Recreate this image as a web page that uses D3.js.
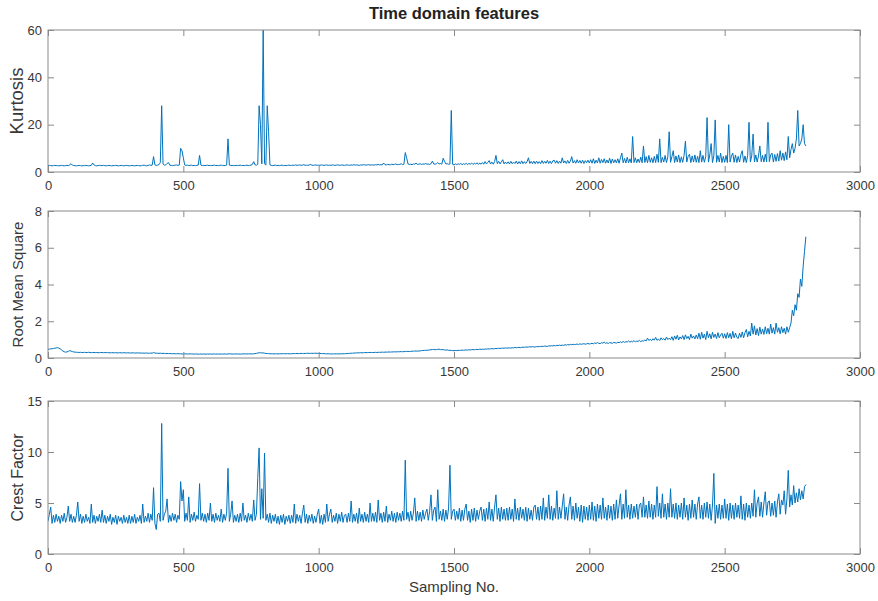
<!DOCTYPE html>
<html>
<head>
<meta charset="utf-8">
<script src="https://cdn.jsdelivr.net/npm/d3@7"></script>
<style>
  html, body { margin: 0; padding: 0; background: #fff; }
  svg text { font-family: "Liberation Sans", Arial, Helvetica, sans-serif; }
</style>
</head>
<body>
<svg id="chart" width="878" height="601"></svg>
<script>
// One value every STEP samples, starting at sample 0
const STEP = 5;

const xTicks = [0, 500, 1000, 1500, 2000, 2500, 3000];

// Kurtosis per sample window
const kurtosis = [
  2.7,2.8,2.7,2.6,2.7,2.8,2.7,2.7,2.6,2.7,2.8,2.7,2.6,2.7,2.8,2.7,3.0,3.5,2.9,2.7,
  2.7,2.6,2.7,2.8,2.7,2.6,2.7,2.7,2.8,2.7,2.6,2.7,2.8,3.8,3.0,2.7,2.6,2.7,2.8,2.7,
  2.7,2.8,2.7,2.6,2.7,2.8,2.7,2.6,2.7,2.7,2.8,2.7,2.6,2.7,2.8,2.7,2.6,2.7,2.8,2.7,
  2.6,2.7,2.8,2.7,2.6,2.7,2.8,2.7,2.6,2.7,2.8,2.9,2.7,2.6,2.8,3.0,2.8,2.9,6.5,3.0,
  2.8,2.9,3.1,4.0,28,3.4,2.9,3.0,3.6,4.0,2.9,2.8,2.7,2.8,2.9,3.0,2.8,2.9,10,9.0,
  6.0,3.0,2.8,2.9,2.7,2.8,2.9,2.7,2.8,2.7,2.8,2.9,7.0,2.9,2.7,2.8,2.7,2.8,2.9,2.7,
  2.8,2.7,2.8,2.9,2.7,2.8,2.7,2.8,2.9,2.7,2.8,2.7,2.9,14,2.9,2.8,2.7,2.8,2.7,2.8,
  2.7,2.8,2.9,2.7,2.8,2.7,2.8,2.9,2.7,2.8,2.9,3.2,4.4,3.0,2.9,3.3,28,20,3.4,60,
  3.5,2.9,28,17,3.0,2.8,2.7,2.8,2.9,2.7,2.8,2.7,2.8,2.9,2.7,2.8,2.7,2.8,2.9,2.8,
  2.8,2.9,2.8,3.0,2.8,2.9,3.0,2.8,2.9,3.1,2.8,2.9,2.8,3.0,3.2,2.9,2.8,2.9,3.0,2.8,
  2.9,2.8,3.0,2.9,2.8,2.9,3.0,2.8,2.9,2.8,3.0,2.9,2.8,2.9,3.0,2.9,2.8,3.0,2.9,2.8,
  2.9,3.0,2.9,2.8,3.0,2.9,3.1,2.9,3.0,2.9,2.8,3.0,2.9,3.1,3.0,2.9,3.0,3.1,2.9,3.0,
  3.0,2.9,3.1,3.0,3.2,3.0,3.1,3.0,3.8,3.1,3.0,3.2,3.1,3.0,3.3,3.1,3.2,3.4,3.1,3.2,
  3.2,3.5,3.1,3.3,8.2,6.0,3.4,3.2,3.3,3.1,3.4,3.3,3.8,3.2,3.3,3.5,3.2,3.4,3.3,3.6,
  3.3,3.4,3.2,3.5,4.6,3.4,3.3,3.5,4.0,3.4,3.6,3.3,5.8,4.5,3.4,3.5,3.3,3.4,26,3.2,
  3.0,3.4,3.1,3.5,3.2,3.6,3.1,3.5,3.2,3.7,3.1,3.6,3.3,3.8,3.2,3.7,3.3,3.9,3.2,3.8,
  3.3,4.0,3.3,4.4,3.4,4.1,4.8,3.4,4.2,3.3,4.4,7.0,3.5,4.5,3.4,4.3,5.2,3.4,4.2,3.5,
  4.3,3.4,4.5,3.5,4.2,3.6,4.6,3.4,4.4,3.5,4.7,3.5,4.4,3.6,4.3,6.0,3.6,4.5,3.5,4.6,
  3.5,4.6,3.6,4.4,3.5,4.8,3.6,4.5,3.7,4.9,3.6,4.6,3.5,4.7,5.0,3.7,4.8,3.6,4.6,3.7,
  6.0,3.8,4.7,3.6,4.9,3.7,4.6,6.5,3.8,4.8,3.7,5.2,3.8,4.9,3.7,5.0,3.6,4.8,3.9,5.0,
  3.8,5.2,3.7,5.6,3.6,5.0,3.8,6.0,3.7,5.3,3.9,5.6,3.7,5.1,3.8,5.8,3.6,5.5,3.9,5.2,
  3.8,5.6,3.7,6.0,8.0,3.9,5.7,3.8,6.2,3.9,5.6,3.8,15,4.0,6.0,3.9,5.5,4.0,6.3,3.9,
  11,4.0,6.5,3.9,7.0,4.1,6.0,3.9,6.6,4.0,7.5,4.1,14,4.0,6.2,4.2,7.0,4.0,6.4,17,
  4.1,6.5,9.0,4.0,6.8,4.2,7.2,4.0,6.4,4.1,7.0,13,4.2,6.6,7.5,4.0,6.8,4.2,7.2,4.1,
  6.6,4.0,9.0,4.2,7.0,4.1,6.5,23,4.2,7.2,12,4.0,6.8,22,4.1,7.0,4.2,8.0,4.0,6.6,
  4.1,7.0,4.0,20,4.2,6.8,8.0,4.1,7.2,4.0,6.6,4.2,7.4,9.0,4.1,6.8,4.0,7.0,21,4.2,
  6.8,16,4.3,7.2,4.2,6.8,11,4.4,7.0,4.2,7.5,4.3,21,4.4,7.2,8.0,4.2,7.4,4.5,7.8,
  4.6,9.0,5.0,8.0,4.8,8.5,5.2,15,6.0,9.5,12,8.0,10,14,26,11,12,14,20,12,
  11
];

// Root mean square per sample window
const rms = [
  0.47,0.48,0.5,0.5,0.52,0.53,0.55,0.56,0.54,0.5,0.44,0.38,0.34,0.32,0.33,0.36,0.4,0.38,0.35,0.33,
  0.32,0.31,0.31,0.3,0.31,0.3,0.3,0.31,0.3,0.3,0.31,0.3,0.29,0.3,0.3,0.29,0.3,0.29,0.29,0.3,
  0.3,0.29,0.29,0.3,0.29,0.29,0.28,0.29,0.29,0.28,0.29,0.28,0.28,0.29,0.28,0.28,0.29,0.28,0.28,0.28,
  0.28,0.27,0.28,0.28,0.27,0.27,0.28,0.27,0.27,0.27,0.27,0.26,0.27,0.27,0.26,0.26,0.27,0.26,0.3,0.27,
  0.26,0.26,0.25,0.26,0.25,0.25,0.25,0.24,0.25,0.24,0.24,0.24,0.23,0.24,0.23,0.23,0.24,0.23,0.23,0.22,
  0.22,0.23,0.22,0.22,0.22,0.23,0.22,0.22,0.21,0.22,0.22,0.21,0.21,0.22,0.21,0.22,0.21,0.21,0.22,0.21,
  0.22,0.21,0.22,0.22,0.21,0.22,0.22,0.21,0.22,0.21,0.22,0.22,0.21,0.22,0.23,0.22,0.22,0.21,0.22,0.22,
  0.22,0.22,0.21,0.22,0.22,0.23,0.22,0.22,0.23,0.22,0.23,0.22,0.23,0.24,0.25,0.27,0.28,0.29,0.27,0.28,
  0.26,0.25,0.24,0.24,0.23,0.23,0.23,0.22,0.23,0.23,0.22,0.23,0.23,0.23,0.24,0.23,0.23,0.24,0.23,0.23,
  0.23,0.24,0.24,0.24,0.25,0.24,0.24,0.25,0.25,0.24,0.25,0.25,0.26,0.25,0.25,0.26,0.25,0.26,0.26,0.25,
  0.25,0.25,0.24,0.24,0.24,0.23,0.23,0.23,0.23,0.22,0.22,0.23,0.22,0.23,0.22,0.23,0.22,0.23,0.23,0.23,
  0.24,0.24,0.25,0.25,0.26,0.26,0.27,0.27,0.28,0.28,0.28,0.29,0.28,0.29,0.29,0.3,0.29,0.3,0.3,0.3,
  0.3,0.3,0.31,0.3,0.31,0.31,0.31,0.32,0.31,0.32,0.32,0.32,0.33,0.32,0.33,0.33,0.34,0.33,0.34,0.34,
  0.34,0.35,0.34,0.35,0.35,0.36,0.36,0.35,0.36,0.37,0.37,0.38,0.38,0.37,0.38,0.39,0.4,0.41,0.41,0.42,
  0.42,0.43,0.44,0.45,0.46,0.47,0.45,0.46,0.47,0.48,0.46,0.45,0.46,0.44,0.43,0.44,0.42,0.42,0.41,0.4,
  0.4,0.41,0.4,0.42,0.41,0.42,0.43,0.42,0.43,0.44,0.43,0.45,0.44,0.45,0.46,0.45,0.46,0.47,0.46,0.48,
  0.47,0.48,0.47,0.49,0.48,0.5,0.49,0.5,0.51,0.5,0.51,0.52,0.51,0.53,0.52,0.53,0.54,0.53,0.55,0.54,
  0.54,0.55,0.54,0.56,0.55,0.57,0.56,0.57,0.58,0.56,0.58,0.59,0.58,0.6,0.59,0.6,0.61,0.6,0.62,0.6,
  0.6,0.62,0.61,0.63,0.62,0.64,0.63,0.65,0.64,0.63,0.66,0.65,0.67,0.66,0.68,0.66,0.69,0.68,0.7,0.68,
  0.7,0.69,0.72,0.7,0.73,0.71,0.74,0.72,0.75,0.73,0.74,0.76,0.73,0.77,0.75,0.76,0.78,0.75,0.77,0.79,
  0.76,0.78,0.8,0.77,0.82,0.79,0.84,0.8,0.78,0.83,0.81,0.86,0.8,0.83,0.79,0.84,0.82,0.8,0.85,0.83,
  0.81,0.86,0.83,0.88,0.84,0.9,0.85,0.89,0.87,0.93,0.86,0.91,0.88,0.95,0.87,0.92,0.9,0.96,0.89,0.94,
  0.92,0.98,0.93,1.08,0.95,1.02,0.94,1.05,0.97,1.12,0.96,1.03,0.95,1.1,0.99,1.06,0.97,1.14,1.0,1.08,
  1.0,1.16,0.96,1.2,1.02,1.24,0.98,1.15,1.04,1.22,1.0,1.26,1.06,1.18,1.0,1.3,1.08,1.2,1.04,1.25,
  1.05,1.35,1.02,1.4,1.08,1.3,1.0,1.45,1.1,1.32,1.04,1.4,1.12,1.3,1.06,1.38,1.1,1.25,1.35,1.08,
  1.32,1.06,1.38,1.1,1.34,1.04,1.45,1.1,1.36,1.12,1.06,1.35,1.12,1.42,1.1,1.38,1.55,1.15,1.45,1.2,
  1.9,1.3,1.75,1.25,1.6,1.22,1.68,1.3,1.58,1.28,1.7,1.32,1.62,1.3,1.85,1.35,1.65,1.3,1.9,1.4,
  1.65,1.32,1.7,1.38,1.62,1.3,1.7,1.4,1.65,1.9,2.6,2.3,2.9,2.6,3.5,3.3,4.3,3.9,5.0,5.8,
  6.6
];

// Crest factor per sample window
const crestFactor = [
  3.2,3.9,4.6,3.0,3.8,3.1,3.9,3.2,3.7,3.0,3.8,3.2,4.0,3.1,3.6,4.7,3.2,3.9,3.1,3.7,
  3.1,3.8,5.1,3.2,3.9,3.0,3.7,3.1,3.9,3.2,3.6,3.0,4.9,3.1,3.8,3.0,3.7,3.2,3.9,3.1,
  4.3,3.1,3.8,3.0,3.7,3.2,3.9,2.9,3.6,3.1,3.8,2.9,3.7,3.2,3.6,3.0,3.8,3.1,3.6,3.0,
  3.8,3.0,3.7,3.1,3.9,3.0,3.6,3.2,3.8,3.0,4.9,3.1,3.7,3.2,4.0,3.1,3.9,3.3,6.5,3.0,
  2.4,3.9,4.0,3.2,12.8,3.3,3.9,4.2,5.4,3.1,3.8,3.2,4.0,3.3,3.9,3.1,3.8,3.4,7.1,5.2,
  6.3,3.2,4.0,3.3,5.6,3.1,3.9,3.3,4.1,3.2,3.8,3.4,6.9,3.3,4.0,3.2,3.9,3.1,4.0,3.3,
  5.0,3.2,3.9,3.1,4.0,3.3,3.8,3.2,4.4,3.1,3.9,3.3,4.0,8.4,3.2,3.9,5.2,3.1,3.8,3.2,
  3.9,3.1,4.0,3.2,5.0,3.3,3.8,3.1,4.0,3.3,3.9,3.2,5.3,3.3,3.9,7.5,10.4,3.4,6.4,3.5,
  9.9,3.3,3.9,3.1,4.0,3.0,3.8,3.2,3.9,3.0,3.7,2.9,3.8,3.1,3.9,2.9,3.7,3.2,3.8,3.0,
  3.8,3.1,4.9,3.0,3.9,3.2,3.8,3.0,4.0,4.8,3.1,3.9,3.0,3.8,3.2,3.9,3.0,3.7,3.1,3.9,
  4.4,3.0,3.8,2.9,3.9,3.1,4.9,3.2,3.9,4.4,3.1,3.8,3.2,4.0,3.0,3.9,3.2,4.1,3.1,3.8,
  3.9,3.1,4.0,3.2,5.2,3.1,3.9,3.2,4.0,3.0,4.5,3.2,3.9,3.1,4.1,3.2,3.9,3.1,5.0,3.2,
  4.0,3.2,4.1,3.1,5.3,3.3,4.0,3.1,4.1,3.2,4.7,3.1,3.9,3.3,4.2,3.2,4.0,3.1,4.1,3.3,
  4.0,3.2,4.2,3.3,9.2,3.4,4.1,3.2,4.2,3.3,4.0,5.5,3.2,4.2,3.3,4.1,3.2,4.3,3.4,4.0,
  4.4,3.3,4.2,5.8,3.3,4.3,4.6,3.2,6.3,3.4,4.2,3.3,4.4,3.2,4.3,3.4,4.5,8.7,3.4,4.2,
  4.4,3.3,4.2,3.4,4.5,3.2,4.3,3.3,4.4,4.9,3.3,4.2,3.1,4.4,3.3,4.5,3.2,4.3,3.4,4.2,
  4.6,3.3,4.4,3.2,4.5,3.4,5.1,3.3,4.4,3.2,4.6,5.8,3.4,4.5,3.2,4.6,3.4,4.4,3.3,4.5,
  3.3,4.6,3.4,4.4,3.2,5.4,3.4,4.5,3.3,4.6,3.5,4.4,3.3,4.6,3.2,4.5,3.4,4.3,3.3,4.6,
  4.8,3.4,4.6,3.3,4.7,3.4,5.5,3.3,4.6,3.5,5.8,3.4,4.7,3.3,4.5,3.5,6.2,3.4,4.6,3.5,
  4.7,5.9,3.4,4.6,3.3,4.8,5.6,3.4,4.7,3.3,5.0,3.5,4.6,3.2,4.8,3.1,4.7,3.4,4.6,3.3,
  4.8,3.4,5.1,3.3,4.7,3.2,4.9,3.5,4.8,3.4,5.5,3.5,4.6,3.3,4.8,3.5,4.7,3.3,4.9,3.4,
  5.3,3.5,4.8,5.9,3.4,4.9,3.5,6.3,3.6,4.8,3.4,4.9,3.5,4.7,3.6,4.9,3.4,4.8,5.0,3.6,
  5.6,3.6,4.8,3.5,5.2,3.6,4.9,3.4,4.8,3.6,6.6,3.7,5.0,3.5,5.9,3.6,4.9,3.4,5.0,3.6,
  6.4,3.6,4.9,3.5,5.0,3.4,4.8,3.6,5.0,3.4,5.5,3.6,4.8,3.3,4.9,3.5,5.3,3.6,4.9,3.4,
  4.9,5.6,3.5,4.8,3.4,5.0,3.6,5.1,3.5,4.9,3.3,4.8,7.9,3.0,4.8,3.5,4.9,3.4,4.8,3.5,
  5.4,3.5,4.9,3.3,5.0,3.5,4.8,3.4,5.0,3.6,4.8,3.5,5.7,3.4,4.9,3.3,5.0,3.6,4.8,3.5,
  5.0,3.7,6.3,3.6,5.0,5.6,3.7,5.1,3.6,5.0,6.1,3.8,5.1,5.2,3.7,5.0,3.8,5.2,3.6,5.1,
  5.9,3.9,5.3,4.8,6.2,3.9,5.4,8.2,4.6,5.8,4.8,6.7,5.0,6.0,5.1,6.4,5.3,6.2,5.4,6.6,
  6.8
];

const panels = [
  { label: "Kurtosis",         labelSize: 18.5, values: kurtosis,    yMax: 60, yTicks: [0, 20, 40, 60], top: 30,  bottom: 172 },
  { label: "Root Mean Square", labelSize: 15,   values: rms,         yMax: 8,  yTicks: [0, 2, 4, 6, 8], top: 211, bottom: 358 },
  { label: "Crest Factor",     labelSize: 16,   values: crestFactor, yMax: 15, yTicks: [0, 5, 10, 15],  top: 401, bottom: 554 }
];

const svg = d3.select("#chart");
const left = 48, right = 860;
const lineColor = "#0072BD";
const axisColor = "#8a8a8a";
const textColor = "#383838";

const x = d3.scaleLinear().domain([0, 3000]).range([left, right]);

// Title
svg.append("text")
  .attr("x", (left + right) / 2)
  .attr("y", 19)
  .attr("text-anchor", "middle")
  .attr("font-size", 16.5)
  .attr("font-weight", "bold")
  .attr("fill", "#222")
  .text("Time domain features");

panels.forEach(p => {
  const y = d3.scaleLinear().domain([0, p.yMax]).range([p.bottom, p.top]);
  const g = svg.append("g");

  const data = p.values.map((v, i) => [i * STEP, v]);

  // Series line, clipped to the axes box
  const clipId = "clip-" + p.label.replace(/\s+/g, "");
  svg.append("clipPath").attr("id", clipId)
    .append("rect").attr("x", left).attr("y", p.top)
    .attr("width", right - left).attr("height", p.bottom - p.top);

  g.append("path")
    .datum(data)
    .attr("clip-path", `url(#${clipId})`)
    .attr("fill", "none")
    .attr("stroke", lineColor)
    .attr("stroke-width", 1)
    .attr("stroke-linejoin", "round")
    .attr("d", d3.line().x(d => x(d[0])).y(d => y(d[1])));

  const fmt = d3.format("d");

  // Bottom axis with tick labels, ticks pointing inward
  const xb = g.append("g").attr("transform", `translate(0,${p.bottom})`)
    .call(d3.axisBottom(x).tickValues(xTicks).tickFormat(fmt).tickSizeInner(-6).tickSizeOuter(0).tickPadding(9));
  // Top axis: ticks only
  const xt = g.append("g").attr("transform", `translate(0,${p.top})`)
    .call(d3.axisTop(x).tickValues(xTicks).tickSizeInner(-6).tickSizeOuter(0).tickFormat(""));
  // Left axis with labels
  const yl = g.append("g").attr("transform", `translate(${left},0)`)
    .call(d3.axisLeft(y).tickValues(p.yTicks).tickFormat(fmt).tickSizeInner(-6).tickSizeOuter(0).tickPadding(6));
  // Right axis: ticks only
  const yr = g.append("g").attr("transform", `translate(${right},0)`)
    .call(d3.axisRight(y).tickValues(p.yTicks).tickSizeInner(-6).tickSizeOuter(0).tickFormat(""));

  [xb, xt, yl, yr].forEach(a => {
    a.select(".domain").remove();
    a.selectAll(".tick line").attr("stroke", axisColor);
    a.selectAll(".tick text").attr("fill", textColor).attr("font-size", 13)
      .attr("font-family", "'Liberation Sans', Arial, sans-serif");
  });

  // Axes box
  g.append("rect")
    .attr("x", left).attr("y", p.top)
    .attr("width", right - left).attr("height", p.bottom - p.top)
    .attr("fill", "none")
    .attr("stroke", axisColor)
    .attr("stroke-width", 1);

  // Y axis label
  g.append("text")
    .attr("transform", `translate(23,${(p.top + p.bottom) / 2}) rotate(-90)`)
    .attr("text-anchor", "middle")
    .attr("font-size", p.labelSize)
    .attr("fill", textColor)
    .text(p.label);
});

// X axis label
svg.append("text")
  .attr("x", (left + right) / 2)
  .attr("y", 592)
  .attr("text-anchor", "middle")
  .attr("font-size", 15)
  .attr("fill", textColor)
  .text("Sampling No.");
</script>
</body>
</html>
